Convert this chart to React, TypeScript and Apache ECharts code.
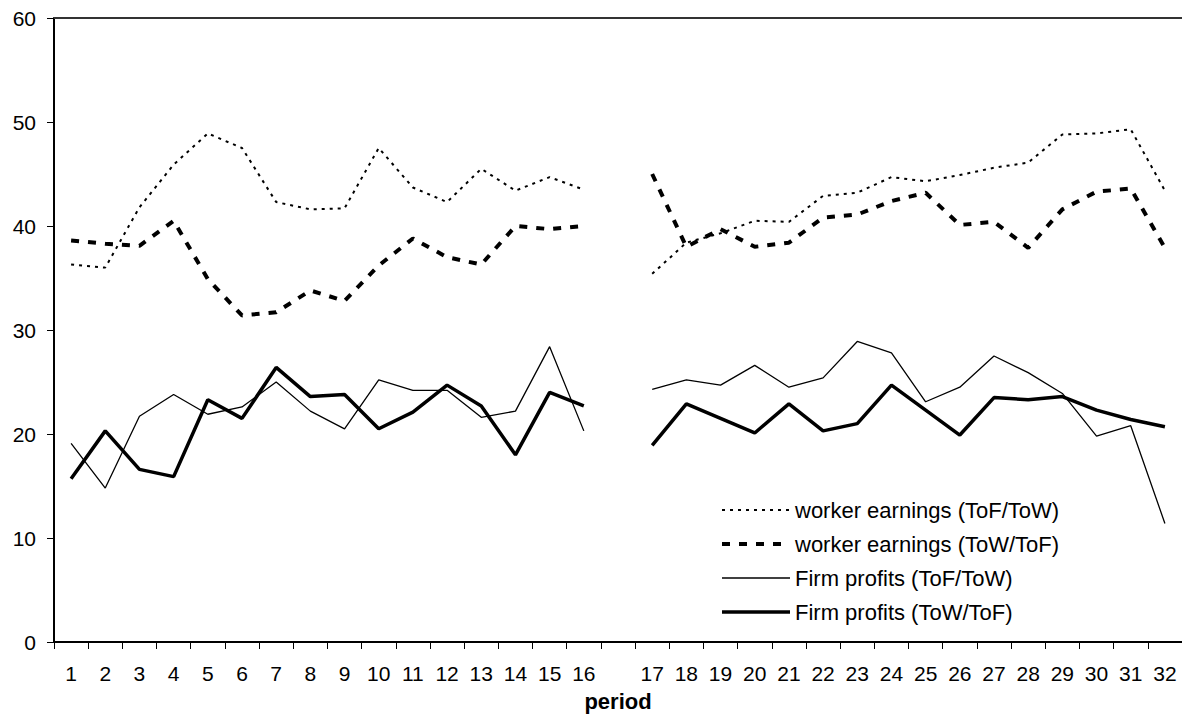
import React, { useEffect, useRef } from "react";
import * as echarts from "echarts";

const periods = [
  "1", "2", "3", "4", "5", "6", "7", "8", "9", "10", "11", "12", "13", "14", "15", "16",
  "",
  "17", "18", "19", "20", "21", "22", "23", "24", "25", "26", "27", "28", "29", "30", "31", "32",
];

const workerToFToW = [
  36.3, 36.0, 41.8, 45.9, 48.9, 47.5, 42.3, 41.6, 41.7, 47.5, 43.7, 42.3, 45.5, 43.4, 44.7, 43.5,
  null,
  35.4, 38.4, 39.3, 40.5, 40.4, 42.9, 43.2, 44.7, 44.3, 44.9, 45.6, 46.1, 48.8, 48.9, 49.3, 43.4,
];

const workerToWToF = [
  38.6, 38.3, 38.1, 40.5, 34.9, 31.4, 31.7, 33.8, 32.8, 36.2, 38.8, 37.0, 36.3, 40.0, 39.7, 40.0,
  null,
  45.0, 38.0, 39.7, 38.0, 38.4, 40.8, 41.1, 42.4, 43.2, 40.1, 40.4, 37.9, 41.6, 43.3, 43.6, 37.9,
];

const firmToFToW = [
  19.1, 14.8, 21.7, 23.8, 21.9, 22.6, 25.0, 22.2, 20.5, 25.2, 24.2, 24.2, 21.6, 22.2, 28.4, 20.3,
  null,
  24.3, 25.2, 24.7, 26.6, 24.5, 25.4, 28.9, 27.8, 23.1, 24.5, 27.5, 25.9, 23.9, 19.8, 20.8, 11.4,
];

const firmToWToF = [
  15.7, 20.3, 16.6, 15.9, 23.3, 21.5, 26.4, 23.6, 23.8, 20.5, 22.1, 24.7, 22.7, 18.0, 24.0, 22.7,
  null,
  18.9, 22.9, 21.5, 20.1, 22.9, 20.3, 21.0, 24.7, 22.3, 19.9, 23.5, 23.3, 23.6, 22.3, 21.4, 20.7,
];

const seriesNames = [
  "worker earnings (ToF/ToW)",
  "worker earnings (ToW/ToF)",
  "Firm profits (ToF/ToW)",
  "Firm profits (ToW/ToF)",
];

const lineWidths = [2, 4, 1.3, 3.5];
const lineTypes: any[] = [[3, 5], [8, 9], "solid", "solid"];

const FONT = "Arial, 'Liberation Sans', sans-serif";

export default function App() {
  const ref = useRef<HTMLDivElement>(null);

  useEffect(() => {
    if (!ref.current) return;
    const chart = echarts.init(ref.current, undefined, { renderer: "svg" });

    const mk = (i: number, data: (number | null)[]) => ({
      name: seriesNames[i],
      type: "line",
      data,
      symbol: "none",
      showSymbol: false,
      connectNulls: false,
      smooth: false,
      color: "#000",
      lineStyle: { color: "#000", width: lineWidths[i], type: lineTypes[i], cap: "butt" },
      emphasis: { disabled: true },
      z: 3,
    });

    chart.setOption({
      animation: false,
      backgroundColor: "#fff",
      textStyle: { fontFamily: FONT },
      grid: { left: 54, top: 18, right: 0, bottom: 72, containLabel: false },
      legend: {
        orient: "vertical",
        left: 715,
        top: 494,
        itemWidth: 68,
        itemHeight: 14,
        itemGap: 12,
        selectedMode: false,
        itemStyle: { opacity: 0 },
        data: seriesNames.map((n, i) => ({
          name: n,
          itemStyle: { opacity: 0 },
          lineStyle: { color: "#000", width: lineWidths[i], type: lineTypes[i], cap: "butt" },
        })),
        textStyle: {
          fontFamily: FONT,
          fontSize: 22,
          color: "#000",
          lineHeight: 22,
        },
      },
      xAxis: [
        {
          type: "category",
          data: periods,
          boundaryGap: true,
          position: "bottom",
          name: "period",
          nameLocation: "middle",
          nameGap: 48,
          nameTextStyle: {
            fontFamily: FONT,
            fontSize: 22,
            fontWeight: "bold",
            color: "#000",
          },
          axisLine: { show: true, lineStyle: { color: "#000", width: 2 } },
          axisTick: {
            show: true,
            interval: 0,
            alignWithLabel: false,
            length: 7,
            lineStyle: { color: "#000", width: 1 },
          },
          axisLabel: {
            interval: 0,
            margin: 21,
            fontFamily: FONT,
            fontSize: 21,
            color: "#000",
          },
          splitLine: { show: false },
        },
        {
          type: "category",
          data: periods,
          position: "top",
          axisLine: { show: true, lineStyle: { color: "#333", width: 2 } },
          axisTick: { show: false },
          axisLabel: { show: false },
          splitLine: { show: false },
        },
      ],
      yAxis: {
        type: "value",
        min: 0,
        max: 60,
        interval: 10,
        axisLine: { show: true, lineStyle: { color: "#000", width: 2 } },
        axisTick: { show: true, length: 7, lineStyle: { color: "#000", width: 1 } },
        axisLabel: {
          margin: 18,
          fontFamily: FONT,
          fontSize: 21,
          color: "#000",
        },
        splitLine: { show: false },
      },
      series: [
        mk(0, workerToFToW),
        mk(1, workerToWToF),
        mk(2, firmToFToW),
        mk(3, firmToWToF),
      ],
    });

    return () => {
      chart.dispose();
    };
  }, []);

  return (
    <div
      ref={ref}
      style={{ position: "absolute", left: 0, top: 0, width: 1182, height: 717 }}
    />
  );
}
